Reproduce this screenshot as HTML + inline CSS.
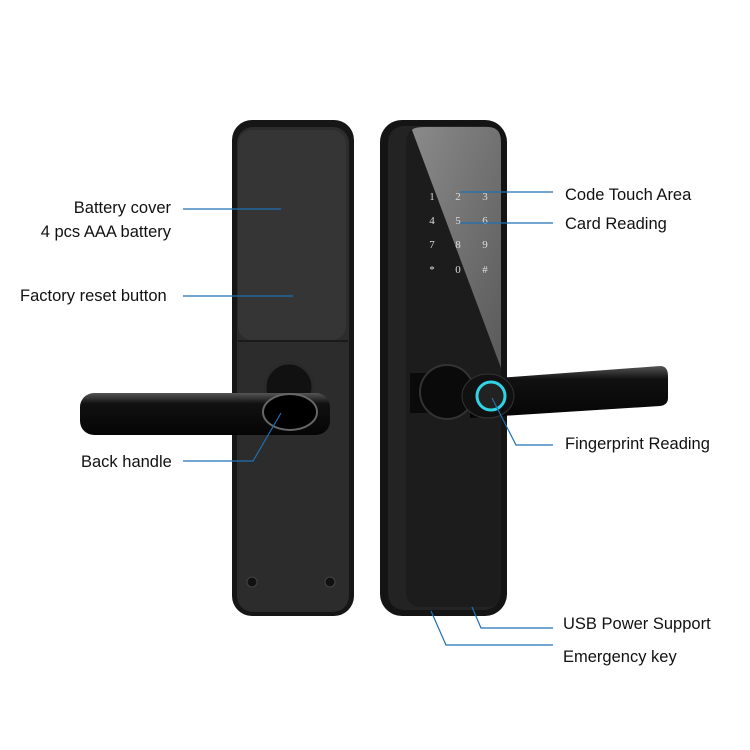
<!DOCTYPE html>
<html><head><meta charset="utf-8"><style>
html,body{margin:0;padding:0;background:#fff;}
svg{display:block;}
text{font-family:"Liberation Sans","DejaVu Sans",sans-serif;fill:#111;}
</style></head><body>
<svg width="750" height="750" viewBox="0 0 750 750" xmlns="http://www.w3.org/2000/svg">
<defs>
<linearGradient id="gl" x1="0" y1="0" x2="1" y2="1">
<stop offset="0" stop-color="#8a8a8a"/><stop offset="1" stop-color="#5a5a5a"/>
</linearGradient>
<linearGradient id="hd" x1="0" y1="0" x2="0" y2="1">
<stop offset="0" stop-color="#555"/><stop offset="0.25" stop-color="#111"/><stop offset="1" stop-color="#050505"/>
</linearGradient>
</defs>
<!-- back plate -->
<rect x="232" y="120" width="122" height="496" rx="20" fill="#161616"/>
<rect x="237" y="127" width="112" height="485" rx="16" fill="#2c2c2c"/>
<rect x="238" y="130" width="108" height="210" rx="14" fill="#353535"/>
<line x1="238" y1="341" x2="348" y2="341" stroke="#1a1a1a" stroke-width="2"/>
<circle cx="289" cy="387" r="24" fill="#111" stroke="#2a2a2a" stroke-width="3"/>
<circle cx="252" cy="582" r="5" fill="#111" stroke="#444"/>
<circle cx="330" cy="582" r="5" fill="#111" stroke="#444"/>
<rect x="80" y="393" width="250" height="42" rx="14" fill="url(#hd)"/>
<ellipse cx="290" cy="412" rx="27" ry="18" fill="#000" stroke="#666" stroke-width="2"/>
<!-- front plate -->
<rect x="380" y="120" width="127" height="496" rx="22" fill="#141414"/>
<rect x="388" y="126" width="112" height="484" rx="16" fill="#232323"/>
<rect x="406" y="127" width="95" height="480" rx="14" fill="#1c1c1c"/>
<path d="M412 130 Q414 127 425 127 L488 127 Q501 127 501 142 L501 368 Z" fill="url(#gl)"/>
<g font-size="11" text-anchor="middle">
<text x="432" y="200" style="fill:#ddd;font-family:'Liberation Serif'">1</text>
<text x="458" y="200" style="fill:#ddd;font-family:'Liberation Serif'">2</text>
<text x="485" y="200" style="fill:#ddd;font-family:'Liberation Serif'">3</text>
<text x="432" y="224" style="fill:#ddd;font-family:'Liberation Serif'">4</text>
<text x="458" y="224" style="fill:#ddd;font-family:'Liberation Serif'">5</text>
<text x="485" y="224" style="fill:#ddd;font-family:'Liberation Serif'">6</text>
<text x="432" y="248" style="fill:#ddd;font-family:'Liberation Serif'">7</text>
<text x="458" y="248" style="fill:#ddd;font-family:'Liberation Serif'">8</text>
<text x="485" y="248" style="fill:#ddd;font-family:'Liberation Serif'">9</text>
<text x="432" y="273" style="fill:#ddd;font-family:'Liberation Serif'">*</text>
<text x="458" y="273" style="fill:#ddd;font-family:'Liberation Serif'">0</text>
<text x="485" y="273" style="fill:#ddd;font-family:'Liberation Serif'">#</text>
</g>
<rect x="410" y="373" width="40" height="40" fill="#0a0a0a"/>
<circle cx="447" cy="392" r="27" fill="#0a0a0a" stroke="#333" stroke-width="2"/>
<path d="M470 380 L660 366 Q668 366 668 376 L668 398 Q668 405 660 406 L470 418 Z" fill="url(#hd)"/>
<ellipse cx="488" cy="396" rx="26" ry="22" fill="#111" stroke="#333"/>
<circle cx="491" cy="396" r="14" fill="#222" stroke="#30d4e6" stroke-width="3"/>
<!-- callout lines -->
<g stroke="#1f6fb2" stroke-width="1.2" fill="none">
<line x1="183" y1="209" x2="281" y2="209"/>
<line x1="183" y1="296" x2="293" y2="296"/>
<polyline points="183,461 253,461 281,413"/>
<line x1="460" y1="192" x2="553" y2="192"/>
<line x1="460" y1="223" x2="553" y2="223"/>
<polyline points="492,398 516,445 553,445"/>
<polyline points="472,607 481,628 553,628"/>
<polyline points="431,611 446,645 553,645"/>
</g>
<g font-size="16.5">
<text x="171" y="213" text-anchor="end">Battery cover</text>
<text x="171" y="237" text-anchor="end">4 pcs AAA battery</text>
<text x="20" y="301">Factory reset button</text>
<text x="81" y="467">Back handle</text>
<text x="565" y="200">Code Touch Area</text>
<text x="565" y="229">Card Reading</text>
<text x="565" y="449">Fingerprint Reading</text>
<text x="563" y="629">USB Power Support</text>
<text x="563" y="662">Emergency key</text>
</g>
</svg>
</body></html>
